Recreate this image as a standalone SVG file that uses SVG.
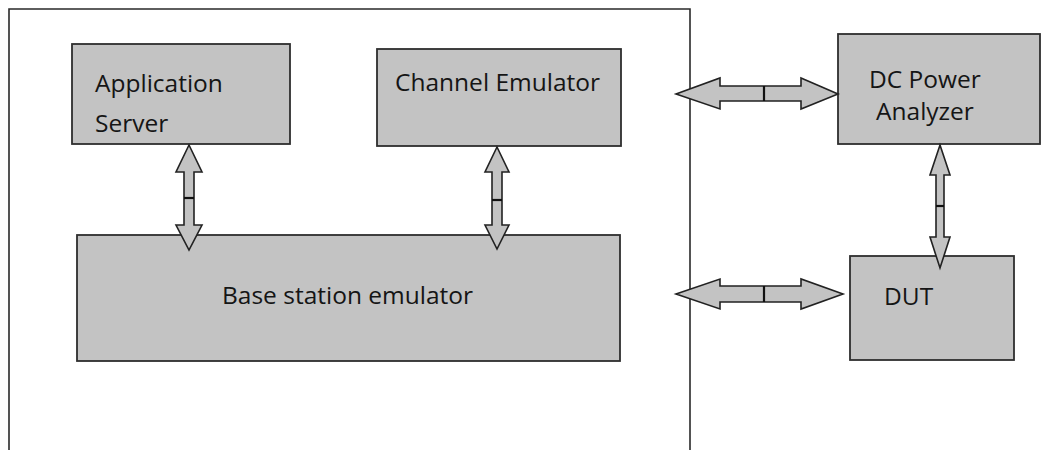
<svg xmlns="http://www.w3.org/2000/svg" width="1058" height="450" viewBox="0 0 1058 450">
  <style>
    .frame { fill: none; stroke: #2a2a2a; stroke-width: 1.6; }
    .box { fill: #c3c3c3; stroke: #2e2e2e; stroke-width: 1.8; }
    .lbl { font-family: "Open Sans", "Noto Sans", "DejaVu Sans", sans-serif; font-size: 24.5px; fill: #151515; }
    .arrow { fill: #c3c3c3; stroke: #222; stroke-width: 1.6; stroke-linejoin: miter; }
    .split { stroke: #111; stroke-width: 2.2; }
  </style>
  <rect width="1058" height="450" fill="#ffffff"/>

  <!-- test system enclosure (open at the bottom) -->
  <path class="frame" d="M9,451 V9 H690 V451"/>

  <g id="application-server">
    <rect class="box" x="72" y="44" width="218" height="100"/>
    <text class="lbl" x="95" y="92">Application</text>
    <text class="lbl" x="95" y="132">Server</text>
  </g>

  <g id="channel-emulator">
    <rect class="box" x="377" y="49" width="244" height="97"/>
    <text class="lbl" x="395" y="91">Channel Emulator</text>
  </g>

  <g id="base-station-emulator">
    <rect class="box" x="77" y="235" width="543" height="126"/>
    <text class="lbl" x="222" y="304">Base station emulator</text>
  </g>

  <g id="dc-power-analyzer">
    <rect class="box" x="838" y="34" width="202" height="110"/>
    <text class="lbl" x="869" y="88">DC Power</text>
    <text class="lbl" x="876" y="120">Analyzer</text>
  </g>

  <g id="dut">
    <rect class="box" x="850" y="256" width="164" height="104"/>
    <text class="lbl" x="884" y="305">DUT</text>
  </g>

  <g id="connectors">
    <!-- Application Server <-> Base station emulator -->
    <path class="arrow" d="M189,145 L202,172 L194,172 L194,225 L202,225 L189,250 L176,225 L184,225 L184,172 L176,172 Z"/>
    <line class="split" x1="184" y1="198" x2="194" y2="198"/>

    <!-- Channel Emulator <-> Base station emulator -->
    <path class="arrow" d="M497,147 L509,172 L502,172 L502,225 L509,225 L497,249 L485,225 L492,225 L492,172 L485,172 Z"/>
    <line class="split" x1="492" y1="200" x2="502" y2="200"/>

    <!-- DC Power Analyzer <-> DUT -->
    <path class="arrow" d="M940,145 L950,175 L944,175 L944,237 L950,237 L940,268 L930,237 L936,237 L936,175 L930,175 Z"/>
    <line class="split" x1="936" y1="206" x2="944" y2="206"/>

    <!-- enclosure <-> DC Power Analyzer -->
    <path class="arrow" d="M676,94 L720,78 L720,86 L801,86 L801,78 L838,94 L801,109 L801,101 L720,101 L720,109 Z"/>
    <line class="split" x1="764" y1="86" x2="764" y2="101"/>

    <!-- enclosure <-> DUT -->
    <path class="arrow" d="M676,294 L720,279 L720,286 L801,286 L801,279 L843,294 L801,309 L801,302 L720,302 L720,309 Z"/>
    <line class="split" x1="764" y1="286" x2="764" y2="302"/>
  </g>
</svg>
